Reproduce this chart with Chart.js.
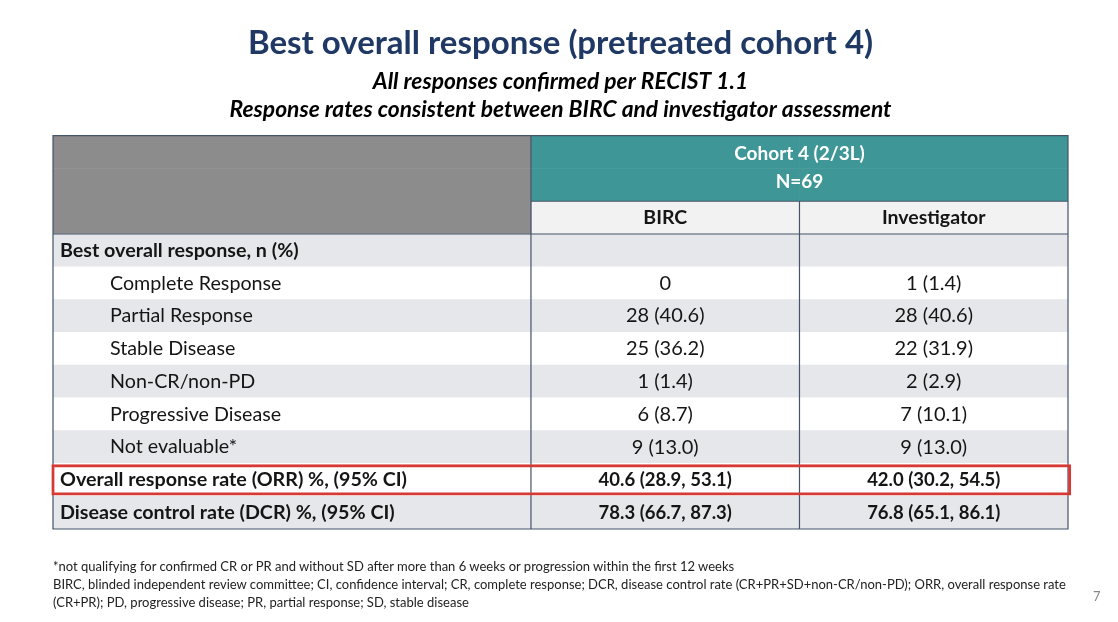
<!DOCTYPE html>
<html>
<head>
<meta charset="utf-8">
<script src="https://cdn.jsdelivr.net/npm/chart.js@4/dist/chart.umd.min.js"></script>
<style>
  body { margin: 0; background: #fff; }
  #wrap { position: relative; width: 1118px; height: 622px; }
  .note { position: absolute; left: 53px; font-family: Lato, "Open Sans", sans-serif; font-size: 13px; color: #222; white-space: nowrap; line-height: 18px; }
  #page { position: absolute; left: 1093px; top: 588px; font-family: Lato, sans-serif; font-size: 13px; color: #888; }
</style>
</head>
<body>
<div id="wrap">
  <canvas id="tableChart"></canvas>
  <div class="note" style="top:557px">*not qualifying for confirmed CR or PR and without SD after more than 6 weeks or progression within the first 12 weeks</div>
  <div class="note" style="top:575px">BIRC, blinded independent review committee; CI, confidence interval; CR, complete response; DCR, disease control rate (CR+PR+SD+non-CR/non-PD); ORR, overall response rate<br>(CR+PR); PD, progressive disease; PR, partial response; SD, stable disease</div>
  <div id="page">7</div>
</div>
<script>
// table data
const cohortHeader = ['Cohort 4 (2/3L)', 'N=69'];
const columns = ['BIRC', 'Investigator'];
const sectionLabel = 'Best overall response, n (%)';
const categories = ['Complete Response', 'Partial Response', 'Stable Disease', 'Non-CR/non-PD', 'Progressive Disease', 'Not evaluable*'];
const bircN = [0, 28, 25, 1, 6, 9];
const bircPct = [null, 40.6, 36.2, 1.4, 8.7, 13.0];
const invN = [1, 28, 22, 2, 7, 9];
const invPct = [1.4, 40.6, 31.9, 2.9, 10.1, 13.0];
const rateLabels = ['Overall response rate (ORR) %, (95% CI)', 'Disease control rate (DCR) %, (95% CI)'];
const bircRate = [[40.6, 28.9, 53.1], [78.3, 66.7, 87.3]];
const invRate = [[42.0, 30.2, 54.5], [76.8, 65.1, 86.1]];

// layout: relative column widths of the table
const colEdges = [0, 1.78, 2.78, 3.78];

const FONT = 'Lato, "Open Sans", sans-serif';
const NAVY = '#44546a';
const TEAL = '#3e9696';
const HEAD_GREY = '#8c8c8c';
const STRIPE = '#e6e7ea';

function fmtCount(n, p) {
    return p == null ? String(n) : n + ' (' + p.toFixed(1) + ')';
}
function fmtRate(r) {
    return r[0].toFixed(1) + ' (' + r[1].toFixed(1) + ', ' + r[2].toFixed(1) + ')';
}

// build rows: 3 header rows then body
const rows = [];
rows.push({ key: 'h0', label: '', kind: 'head', vals: [cohortHeader[0], ''] });
rows.push({ key: 'h1', label: '', kind: 'head', vals: [cohortHeader[1], ''] });
rows.push({ key: 'h2', label: '', kind: 'sub', vals: columns });
rows.push({ key: 'sec', label: sectionLabel, kind: 'bold', vals: ['', ''] });
categories.forEach(function(c, i) {
    rows.push({ key: 'c' + i, label: c, kind: 'indent', vals: [fmtCount(bircN[i], bircPct[i]), fmtCount(invN[i], invPct[i])] });
});
rateLabels.forEach(function(c, i) {
    rows.push({ key: 'r' + i, label: c, kind: 'rate', vals: [fmtRate(bircRate[i]), fmtRate(invRate[i])] });
});

function rowColor(r, i, col) {
    if (r.kind === 'head') return col === 0 ? HEAD_GREY : TEAL;
    if (r.kind === 'sub') return col === 0 ? HEAD_GREY : '#f2f2f2';
    return (i - 3) % 2 === 0 ? STRIPE : '#ffffff';
}

const labels = rows.map(r => r.key);
const orrIndex = rows.findIndex(r => r.key === 'r0');

const bgSets = [0, 1, 2].map(function(col) {
    return {
        label: 'col' + col,
        data: rows.map(() => [colEdges[col], colEdges[col + 1]]),
        backgroundColor: rows.map((r, i) => rowColor(r, i, col)),
        borderWidth: 0,
        barPercentage: 1,
        categoryPercentage: 1,
        grouped: false
    };
});

const highlight = {
    label: 'orr',
    data: rows.map((r, i) => i === orrIndex ? [colEdges[0] - 0.006, colEdges[3] + 0.012] : null),
    backgroundColor: 'rgba(0,0,0,0)',
    borderColor: '#d63a35',
    borderWidth: 3,
    borderSkipped: false,
    barPercentage: 1,
    categoryPercentage: 0.95,
    grouped: false,
    clip: 8
};

const gridPlugin = {
    id: 'tableGrid',
    beforeDatasetDraw(chart, args) {
        if (args.index !== 0) return;
        const x = chart.scales.x, y = chart.scales.y;
        const step = (y.bottom - y.top) / rows.length;
        const px = i => x.getPixelForValue(colEdges[i]);
        const ry = r => y.top + r * step;
        const ctx = chart.ctx;
        ctx.save();
        ctx.strokeStyle = NAVY;
        ctx.lineWidth = 1.2;
        ctx.beginPath();
        ctx.rect(px(0), ry(0), px(3) - px(0), ry(rows.length) - ry(0));
        ctx.moveTo(px(1), ry(0)); ctx.lineTo(px(1), ry(rows.length));
        ctx.moveTo(px(2), ry(2)); ctx.lineTo(px(2), ry(rows.length));
        ctx.moveTo(px(1), ry(2)); ctx.lineTo(px(3), ry(2));
        ctx.moveTo(px(0), ry(3)); ctx.lineTo(px(3), ry(3));
        ctx.stroke();
        ctx.restore();
    }
};

const textPlugin = {
    id: 'tableText',
    afterDatasetsDraw(chart) {
        const x = chart.scales.x, y = chart.scales.y;
        const ctx = chart.ctx;
        const px = i => x.getPixelForValue(colEdges[i]);
        ctx.save();
        ctx.textBaseline = 'middle';
        rows.forEach(function(r, i) {
            const cy = y.getPixelForValue(i);
            if (r.kind === 'head') {
                ctx.fillStyle = '#ffffff';
                ctx.font = 'bold 19px ' + FONT;
                ctx.textAlign = 'center';
                ctx.fillText(r.vals[0], (px(1) + px(3)) / 2, cy + (i === 0 ? 2 : -3));
                return;
            }
            ctx.fillStyle = '#151515';
            const bold = r.kind !== 'indent';
            ctx.font = (bold ? 'bold ' : '') + '19.7px ' + FONT;
            ctx.textAlign = 'left';
            if (r.label) ctx.fillText(r.label, px(0) + (r.kind === 'indent' ? 57 : 7), cy);
            ctx.textAlign = 'center';
            if (r.kind === 'indent') ctx.font = '20px ' + FONT;
            else if (r.kind === 'sub') ctx.font = 'bold 19.5px ' + FONT;
            else ctx.font = 'bold 18.5px ' + FONT;
            ctx.fillText(r.vals[0], (px(1) + px(2)) / 2, cy);
            ctx.fillText(r.vals[1], (px(2) + px(3)) / 2, cy);
        });
        ctx.restore();
    }
};

const ctx = document.getElementById('tableChart').getContext('2d');
const chart = new Chart(ctx, {
    type: 'bar',
    data: {
        labels: labels,
        datasets: [highlight].concat(bgSets)
    },
    options: {
        indexAxis: 'y',
        responsive: true,
        maintainAspectRatio: false,
        animation: false,
        layout: { padding: { left: 53, right: 50, top: 0, bottom: 93 } },
        scales: {
            x: { type: 'linear', min: colEdges[0], max: colEdges[3], display: false },
            y: { type: 'category', display: false }
        },
        plugins: {
            legend: { display: false },
            tooltip: { enabled: false },
            title: {
                display: true,
                text: 'Best overall response (pretreated cohort 4)',
                color: '#1f3864',
                font: { family: FONT, size: 33, weight: 'bold', lineHeight: 1.2 },
                padding: { top: 24, bottom: 4 }
            },
            subtitle: {
                display: true,
                text: ['All responses confirmed per RECIST 1.1', 'Response rates consistent between BIRC and investigator assessment'],
                color: '#000000',
                font: { family: FONT, size: 22.8, weight: 'bold', style: 'italic', lineHeight: 1.23 },
                padding: { top: 0, bottom: 12 }
            }
        }
    },
    plugins: [gridPlugin, textPlugin]
});
</script>
</body>
</html>
